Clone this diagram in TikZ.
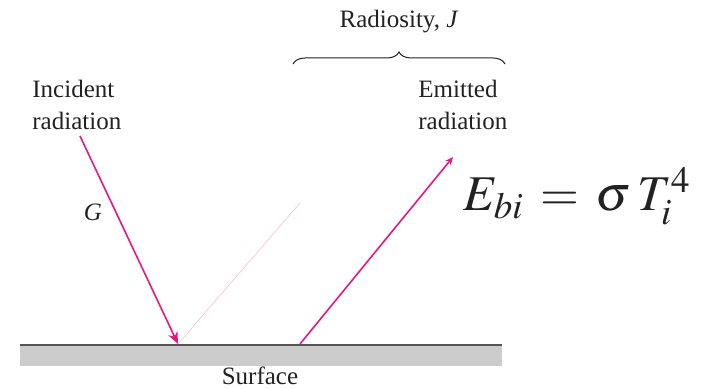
\documentclass[tikz,border=0pt]{standalone}
\usepackage{mathptmx}
\usepackage[no-math]{fontspec}
\setmainfont{Liberation Serif}
\usetikzlibrary{
  positioning,
  arrows.meta,
  decorations.pathreplacing
}
\definecolor{ray}{HTML}{E8197D}
\definecolor{slab}{HTML}{CCCCCC}
\definecolor{slabedge}{HTML}{555555}
\definecolor{ink}{HTML}{222222}

\begin{document}
\begin{tikzpicture}[
  x=0.5pt, y=-0.5pt,
  lbl/.style={text=ink, font=\fontsize{12.5}{16}\selectfont, inner sep=0pt},
  stack/.style={lbl, align=left, anchor=north west},
  beam/.style={ray, line width=0.8pt},
  arr/.style={beam, -{Stealth[length=6pt, width=5pt]}},
  thinarr/.style={beam, -{Stealth[length=4pt, width=3.5pt]}}
]
  \useasboundingbox (0,0) rectangle (723,389);

  % Surface
  \fill[slab] (20,345) rectangle (502,366);
  \draw[slabedge, line width=1pt] (20,345) -- (502,345);
  \node[lbl] (surf) at (260,376) {Surface};

  % Hit points on the surface
  \coordinate (hitG) at (178,344);
  \coordinate (hitE) at (300,344);
  \coordinate (srcG) at (80,136);
  \coordinate (endE) at (453,157);
  \coordinate (endR) at (300,203);

  % Incident
  \node[stack] (inc) at (32,80) {Incident\\radiation};
  \draw[arr] (srcG) -- (hitG);
  \node[lbl, font=\fontsize{12.5}{16}\selectfont\itshape] (gee) at (93,212) {G};

  % Reflected (faint)
  \draw[ray!30, line width=0.3pt] (hitG) -- (endR);

  % Emitted
  \node[stack] (emi) at (418,80) {Emitted\\radiation};
  \draw[thinarr] (hitE) -- (endE);

  % Radiosity brace
  \coordinate (brL) at (293,64);
  \coordinate (brR) at (505,64);
  \draw[ink, line width=0.5pt, decorate, decoration={brace, amplitude=6pt}] (brL) -- (brR);
  \node[lbl] (rad) at (399,22) {Radiosity, \textit{J}};

  % Blackbody emission
  \node[text=ink, inner sep=0pt, anchor=west, font=\fontsize{25}{30}\selectfont] (ebi) at (463,196)
    {$E_{bi}\,=\,\sigma\,T_i^4$};
\end{tikzpicture}
\end{document}
